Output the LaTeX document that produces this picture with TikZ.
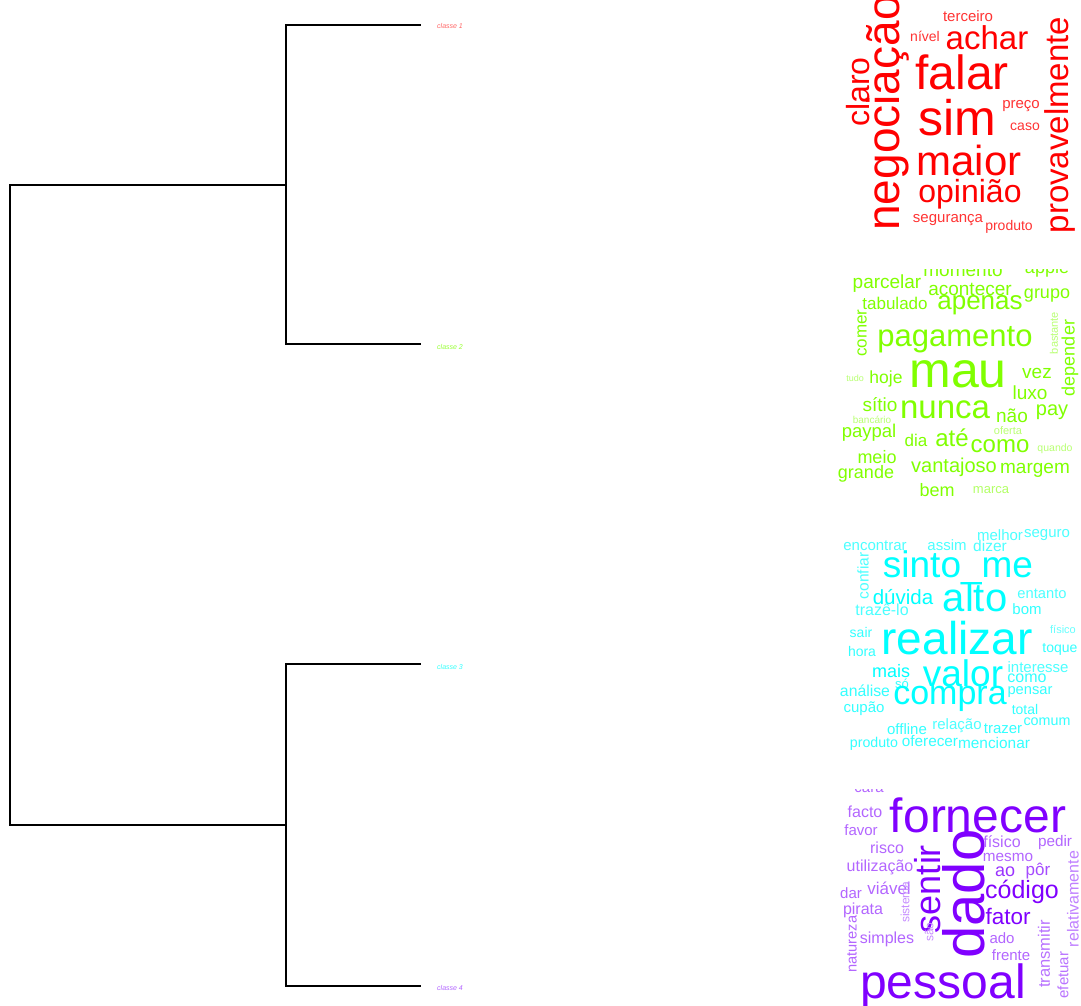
\documentclass[tikz,border=0pt]{standalone}
\usepackage{fontspec}
\setmainfont{Liberation Sans}
\definecolor{cA}{HTML}{FF0000}
\definecolor{cB}{HTML}{80FF00}
\definecolor{cC}{HTML}{00FFFF}
\definecolor{cD}{HTML}{8000FF}
\tikzset{
  wordnode/.style={inner sep=0pt, outer sep=0pt, anchor=center},
  dend/.style={draw=black, line width=1.7pt, line cap=rect},
  leaflabel/.style={inner sep=0pt, anchor=west, font=\fontsize{7}{7}\selectfont\itshape}
}
% #1 rotation, #2 name, #3 x, #4 y, #5 size, #6 colour, #7 text
\newcommand\cw[7][0]{\node[wordnode, text=#6, rotate=#1] (#2) at (#3,#4) {\fontsize{#5}{#5}\selectfont #7};}
\begin{document}
\begin{tikzpicture}[x=1pt,y=-1pt]
\useasboundingbox[fill=white] (0,0) rectangle (1081,1005);
% ---------------- dendrogram ----------------
\coordinate (e1) at (420,25);
\coordinate (e2) at (420,344);
\coordinate (e3) at (420,664);
\coordinate (e4) at (420,986);
\coordinate (a1) at (286,25);
\coordinate (a2) at (286,344);
\coordinate (a3) at (286,664);
\coordinate (a4) at (286,986);
\coordinate (j1) at (286,185);
\coordinate (j2) at (286,825);
\coordinate (r1) at (10,185);
\coordinate (r2) at (10,825);
\draw[dend] (e1) -- (a1) -- (a2) -- (e2);
\draw[dend] (e3) -- (a3) -- (a4) -- (e4);
\draw[dend] (j1) -- (r1) -- (r2) -- (j2);
\node[leaflabel, text=cA!60] (l1) at (437,26) {classe 1};
\node[leaflabel, text=cB!80] (l2) at (437,347) {classe 2};
\node[leaflabel, text=cC!80] (l3) at (437,667) {classe 3};
\node[leaflabel, text=cD!60] (l4) at (437,988) {classe 4};
% ---------------- cloud 1 ----------------
\begin{scope}
\clip (830,0) rectangle (1081,250);
\cw[90]{a01}{888}{113}{46}{cA}{negociação}
\cw{a02}{962}{72}{48}{cA}{falar}
\cw{a03}{957}{118}{50}{cA}{sim}
\cw{a04}{969}{160}{42}{cA}{maior}
\cw{a05}{970}{194}{32}{cA}{opinião}
\cw{a06}{987}{38}{33}{cA}{achar}
\cw[90]{a07}{858}{92}{32}{cA}{claro}
\cw[90]{a08}{1060}{125}{33}{cA}{provavelmente}
\cw{a09}{925}{36}{14}{cA!80}{nível}
\cw{a10}{968}{16}{15}{cA!80}{terceiro}
\cw{a11}{1021}{106}{15}{cA!80}{preço}
\cw{a12}{1025}{127}{14}{cA!80}{caso}
\cw{a13}{948}{220}{15}{cA!80}{segurança}
\cw{a14}{1009}{227}{14}{cA!80}{produto}
\end{scope}
% ---------------- cloud 2 ----------------
\begin{scope}
\clip (830,269) rectangle (1081,510);
\cw{b01}{958}{374}{50}{cB}{mau}
\cw{b02}{955}{340}{31}{cB}{pagamento}
\cw{b03}{945}{410}{33}{cB}{nunca}
\cw{b04}{980}{305}{26}{cB}{apenas}
\cw{b05}{970}{289}{19}{cB}{acontecer}
\cw{b06}{963}{270}{19}{cB}{momento}
\cw{b07}{1047}{269}{18}{cB}{apple}
\cw{b08}{887}{284}{19}{cB}{parcelar}
\cw{b09}{1047}{296}{18}{cB}{grupo}
\cw{b10}{895}{303}{17}{cB}{tabulado}
\cw[90]{b11}{862}{333}{17}{cB}{comer}
\cw[90]{b12}{1054}{333}{11}{cB!55}{bastante}
\cw[90]{b13}{1070}{358}{18}{cB}{depender}
\cw{b14}{855}{378}{9}{cB!55}{tudo}
\cw{b15}{886}{379}{17.5}{cB}{hoje}
\cw{b16}{1037}{373}{19}{cB}{vez}
\cw{b17}{1030}{393}{19}{cB}{luxo}
\cw{b18}{880}{405}{19}{cB}{sítio}
\cw{b19}{1012}{416}{19}{cB}{não}
\cw{b20}{1052}{412}{20}{cB}{pay}
\cw{b21}{872}{420}{10}{cB!55}{bancário}
\cw{b22}{869}{433}{18.5}{cB}{paypal}
\cw{b23}{1008}{431}{11}{cB!55}{oferta}
\cw{b24}{916}{440}{17}{cB}{dia}
\cw{b25}{952}{438}{24}{cB}{até}
\cw{b26}{1000}{446}{24}{cB}{como}
\cw{b27}{1055}{449}{10.5}{cB!55}{quando}
\cw{b28}{877}{457}{18}{cB}{meio}
\cw{b29}{866}{474}{18}{cB}{grande}
\cw{b30}{954}{467}{20}{cB}{vantajoso}
\cw{b31}{1035}{470}{19}{cB}{margem}
\cw{b32}{937}{490}{18}{cB}{bem}
\cw{b33}{991}{490}{13}{cB!60}{marca}
\end{scope}
% ---------------- cloud 3 ----------------
\cw{c01}{957}{638}{46}{cC}{realizar}
\cw{c02}{975}{597}{40}{cC}{alto}
\cw{c03}{958}{568}{37}{cC}{sinto\_me}
\cw{c04}{903}{597}{20.5}{cC}{dúvida}
\cw{c05}{882}{610}{16}{cC!70}{trazê-lo}
\cw[90]{c06}{863}{576}{15.5}{cC!70}{confiar}
\cw{c07}{875}{546}{15}{cC!70}{encontrar}
\cw{c08}{947}{545}{15}{cC!70}{assim}
\cw{c09}{990}{546}{15.5}{cC!70}{dizer}
\cw{c10}{1000}{535}{15}{cC!70}{melhor}
\cw{c11}{1047}{535}{15}{cC!70}{seguro}
\cw{c12}{1042}{594}{14.7}{cC!70}{entanto}
\cw{c13}{1027}{609}{15}{cC!80}{bom}
\cw{c14}{861}{632}{14}{cC!80}{sair}
\cw{c15}{1063}{629}{11}{cC!60}{físico}
\cw{c16}{862}{651}{14}{cC!80}{hora}
\cw{c17}{1060}{649}{14}{cC!80}{toque}
\cw{c18}{891}{671}{18}{cC}{mais}
\cw{c19}{963}{673}{37}{cC}{valor}
\cw{c20}{1038}{667}{15}{cC!70}{interesse}
\cw{c21}{1027}{678}{16}{cC!80}{como}
\cw{c22}{902}{684}{13}{cC!80}{só}
\cw{c23}{865}{691}{15.8}{cC!80}{análise}
\cw{c24}{950}{699}{34}{cC}{compra}
\cw{c25}{1030}{692}{14.7}{cC!80}{pensar}
\cw{c26}{864}{709}{15}{cC!80}{cupão}
\cw{c27}{1025}{709}{14}{cC!80}{total}
\cw{c28}{907}{729}{15}{cC!80}{offline}
\cw{c29}{957}{726}{15}{cC!70}{relação}
\cw{c30}{1003}{729}{15}{cC!80}{trazer}
\cw{c31}{1047}{722}{14.3}{cC!80}{comum}
\cw{c32}{874}{744}{14.2}{cC!80}{produto}
\cw{c33}{930}{741}{15.3}{cC!80}{oferecer}
\cw{c34}{994}{743}{15.4}{cC!80}{mencionar}
% ---------------- cloud 4 ----------------
\begin{scope}
\clip (830,789) rectangle (1081,1005);
\cw{d01}{978}{815}{48}{cD}{fornecer}
\cw[90]{d02}{964}{894}{58}{cD}{dado}
\cw{d03}{943}{986}{48}{cD}{pessoal}
\cw[90]{d04}{928}{889}{36}{cD}{sentir}
\cw{d05}{1022}{892}{25}{cD}{código}
\cw{d06}{1008}{916}{22.5}{cD}{fator}
\cw{d07}{865}{812}{16}{cD!60}{facto}
\cw{d08}{861}{830}{15}{cD!60}{favor}
\cw{d09}{887}{848}{16}{cD!60}{risco}
\cw{d10}{880}{867}{16}{cD!60}{utilização}
\cw{d11}{851}{893}{15}{cD!60}{dar}
\cw{d12}{889}{888}{17}{cD!60}{viável}
\cw{d13}{863}{910}{16}{cD!60}{pirata}
\cw[90]{d14}{905}{902}{12}{cD!45}{sistema}
\cw[90]{d15}{852}{944}{14.6}{cD!60}{natureza}
\cw{d16}{887}{939}{16}{cD!60}{simples}
\cw[90]{d17}{929}{932}{12}{cD!45}{são}
\cw{d18}{1002}{842}{16}{cD!60}{físico}
\cw{d19}{1055}{843}{15.3}{cD!60}{pedir}
\cw{d20}{1008}{857}{15.3}{cD!60}{mesmo}
\cw{d21}{1005}{872}{18}{cD!80}{ao}
\cw{d22}{1038}{871}{17}{cD!70}{pôr}
\cw[90]{d23}{1073}{899}{16}{cD!50}{relativamente}
\cw{d24}{1002}{938}{15}{cD!60}{ado}
\cw{d25}{1011}{955}{15}{cD!60}{frente}
\cw[90]{d26}{1044}{954}{16.5}{cD!55}{transmitir}
\cw[90]{d27}{1063}{975}{15}{cD!55}{efetuar}
\cw{d28}{869}{789}{15}{cD!60}{cara}
\end{scope}
\end{tikzpicture}
\end{document}
